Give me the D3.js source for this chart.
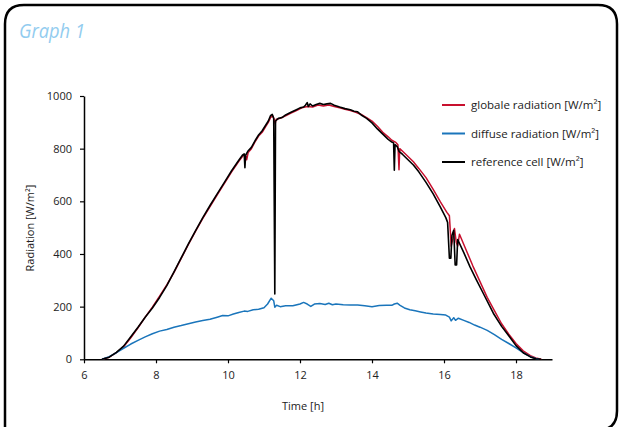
<!DOCTYPE html>
<html>
<head>
<meta charset="utf-8">
<script src="https://cdn.jsdelivr.net/npm/d3@7"></script>
<style>
  body { margin: 0; background: #fff; }
  svg { display: block; font-family: "Open Sans", sans-serif; }
</style>
</head>
<body>
<svg id="chart" width="622" height="427"></svg>
<script>
// Series: [hour, W/m²]
const globalData = [
  [6.5,0],[6.7,8],[6.9,25],[7.1,48],[7.3,82],[7.5,120],[7.7,160],[7.9,198],[8.1,240],[8.3,283],
  [8.5,330],[8.7,383],[8.9,436],[9.1,487],[9.3,535],[9.5,580],[9.7,625],[9.9,668],[10.1,712],[10.3,752],
  [10.4,770],[10.45,778],[10.5,770],[10.52,758],[10.56,785],[10.65,800],[10.75,826],[10.85,848],[10.95,862],
  [11.05,885],[11.12,900],[11.18,918],[11.24,925],[11.28,912],[11.31,895],[11.34,912],[11.45,915],[11.6,925],
  [11.75,935],[11.9,945],[12.05,955],[12.2,960],[12.35,958],[12.5,966],[12.65,962],[12.8,966],[12.95,960],
  [13.1,955],[13.25,950],[13.4,945],[13.55,938],[13.7,930],[13.85,918],[14.0,905],[14.15,885],[14.3,862],
  [14.45,845],[14.55,832],[14.65,825],[14.72,815],[14.75,720],[14.77,800],[14.85,790],[15.0,770],[15.15,750],
  [15.3,725],[15.5,690],[15.7,645],[15.9,598],[16.08,558],[16.15,545],[16.2,430],[16.25,460],[16.29,497],
  [16.34,445],[16.38,430],[16.43,475],[16.6,420],[16.8,355],[17.0,295],[17.2,235],[17.4,185],[17.6,135],
  [17.8,95],[18.0,60],[18.2,32],[18.4,14],[18.55,5],[18.7,0]
];

const diffuseData = [
  [6.5,0],[6.7,10],[6.9,25],[7.1,42],[7.3,58],[7.5,72],[7.7,85],[7.9,97],[8.1,107],[8.3,113],
  [8.5,122],[8.7,128],[8.9,135],[9.1,142],[9.3,147],[9.5,152],[9.7,160],[9.85,166],[10.0,165],[10.15,172],
  [10.3,178],[10.45,183],[10.55,182],[10.7,188],[10.85,190],[11.0,196],[11.1,210],[11.2,232],[11.27,222],
  [11.3,198],[11.35,205],[11.45,200],[11.6,203],[11.8,203],[12.0,210],[12.1,216],[12.2,210],[12.3,201],
  [12.4,210],[12.55,212],[12.7,208],[12.8,213],[12.9,207],[13.0,210],[13.2,207],[13.4,206],[13.6,206],
  [13.8,203],[14.0,200],[14.2,204],[14.4,205],[14.55,205],[14.62,210],[14.7,213],[14.78,205],[14.9,195],
  [15.05,188],[15.2,184],[15.35,180],[15.5,176],[15.7,172],[15.9,170],[16.05,168],[16.15,160],[16.2,146],
  [16.27,158],[16.32,148],[16.4,156],[16.55,148],[16.7,140],[16.85,130],[17.0,122],[17.2,110],[17.4,94],
  [17.6,76],[17.8,60],[18.0,43],[18.2,25],[18.4,10],[18.55,3],[18.65,0]
];

const referenceData = [
  [6.5,0],[6.7,8],[6.9,26],[7.1,50],[7.3,86],[7.5,122],[7.7,160],[7.9,195],[8.1,235],[8.3,280],
  [8.5,332],[8.7,385],[8.9,438],[9.1,489],[9.3,538],[9.5,584],[9.7,628],[9.9,672],[10.1,716],[10.3,756],
  [10.4,775],[10.45,780],[10.47,728],[10.49,775],[10.55,790],[10.65,805],[10.75,830],[10.85,852],[10.95,868],
  [11.05,890],[11.12,905],[11.18,925],[11.23,930],[11.27,915],[11.3,248],[11.32,905],[11.4,915],[11.5,918],
  [11.6,928],[11.75,938],[11.9,948],[12.0,955],[12.1,958],[12.15,965],[12.2,975],[12.23,960],[12.28,970],
  [12.35,962],[12.45,968],[12.55,972],[12.65,968],[12.75,970],[12.85,972],[12.95,965],[13.1,958],[13.25,952],
  [13.4,948],[13.5,942],[13.6,940],[13.7,928],[13.85,915],[14.0,898],[14.15,875],[14.3,855],[14.45,835],
  [14.55,825],[14.6,822],[14.62,718],[14.64,815],[14.7,808],[14.75,790],[14.85,778],[15.0,758],[15.15,738],
  [15.3,712],[15.5,672],[15.7,628],[15.9,578],[16.05,538],[16.1,520],[16.15,384],[16.19,384],[16.22,470],
  [16.27,490],[16.31,358],[16.35,358],[16.38,455],[16.55,405],[16.72,352],[16.9,302],[17.1,248],[17.37,175],
  [17.6,125],[17.83,84],[18.0,52],[18.2,25],[18.4,9],[18.55,2],[18.7,0]
];

const xTicks = [6, 8, 10, 12, 14, 16, 18];
const yTicks = [0, 200, 400, 600, 800, 1000];

const series = [
  { name: "globale radiation [W/m²]", color: "#c8102e", data: globalData },
  { name: "diffuse radiation [W/m²]", color: "#1a75bb", data: diffuseData },
  { name: "reference cell [W/m²]", color: "#000000", data: referenceData }
];

const svg = d3.select("#chart");

// Frame with rounded corners (left side runs straight off the bottom)
svg.append("path")
  .attr("d", "M5,427 L5,24 Q5,5 24,5 L598,5 Q617,5 617,24 L617,411 Q617,430 598,430")
  .attr("fill", "none")
  .attr("stroke", "#000")
  .attr("stroke-width", 2.5);

svg.append("text")
  .attr("x", 19)
  .attr("y", 38)
  .attr("fill", "#92ccef")
  .attr("font-style", "italic")
  .attr("font-size", 20)
  .attr("textLength", 66)
  .attr("lengthAdjust", "spacingAndGlyphs")
  .text("Graph 1");

const x = d3.scaleLinear().domain([6, 19]).range([84, 552]);
const y = d3.scaleLinear().domain([0, 1000]).range([359.3, 96]);

// Axes
const xAxis = svg.append("g")
  .attr("transform", `translate(0,${y(0)})`)
  .call(d3.axisBottom(x).tickValues(xTicks).tickSize(4).tickPadding(8).tickSizeOuter(0));
const yAxis = svg.append("g")
  .attr("transform", `translate(${x(6)},0)`)
  .call(d3.axisLeft(y).tickValues(yTicks).tickFormat(d3.format("d")).tickSize(4).tickPadding(8).tickSizeOuter(0));

[xAxis, yAxis].forEach(g => {
  g.select(".domain").attr("stroke", "#000").attr("stroke-width", 1.5);
  g.selectAll(".tick line").attr("stroke", "#000").attr("stroke-width", 1.2);
  g.selectAll(".tick text").attr("fill", "#222").attr("font-size", 11)
    .attr("font-family", "Open Sans, sans-serif");
});

svg.append("text")
  .attr("transform", "translate(34,228) rotate(-90)")
  .attr("text-anchor", "middle")
  .attr("font-size", 11)
  .attr("fill", "#222")
  .text("Radiation [W/m²]");

svg.append("text")
  .attr("x", 303)
  .attr("y", 410)
  .attr("text-anchor", "middle")
  .attr("font-size", 11)
  .attr("fill", "#222")
  .text("Time [h]");

// Lines: red first, then blue, black on top
const line = d3.line().x(d => x(d[0])).y(d => y(d[1]));

series.forEach(s => {
  svg.append("path")
    .datum(s.data)
    .attr("fill", "none")
    .attr("stroke", s.color)
    .attr("stroke-width", s.color === "#000000" ? 1.6 : 1.5)
    .attr("stroke-linejoin", "round")
    .attr("d", line);
});

// Legend
const legend = svg.append("g").attr("transform", "translate(442,105)");
series.forEach((s, i) => {
  const row = legend.append("g").attr("transform", `translate(0,${i * 28.5})`);
  row.append("line")
    .attr("x1", 0).attr("x2", 23)
    .attr("stroke", s.color).attr("stroke-width", 2);
  row.append("text")
    .attr("x", 29).attr("y", 4)
    .attr("font-size", 11.5)
    .attr("fill", "#222")
    .text(s.name);
});
</script>
</body>
</html>
